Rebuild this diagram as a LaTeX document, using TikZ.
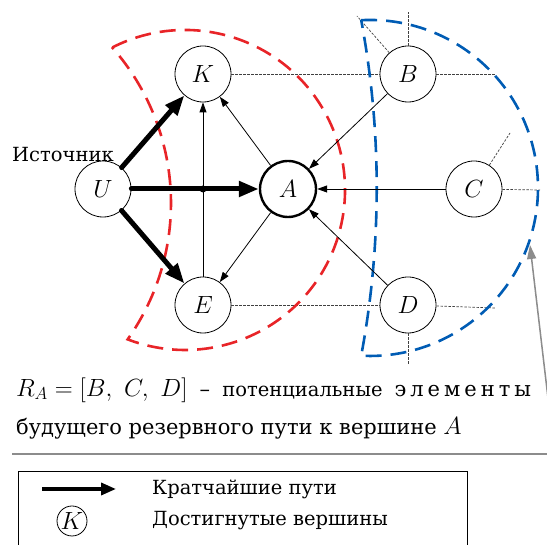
\documentclass[tikz,border=0pt]{standalone}
\usepackage{fontspec}
\setmainfont{DejaVu Serif}
\usetikzlibrary{arrows.meta, positioning}

\definecolor{zonered}{RGB}{232,36,40}
\definecolor{zoneblue}{RGB}{0,92,180}

\begin{document}
\begin{tikzpicture}[
  x=1pt, y=1pt,
  node distance=100pt, on grid,
  vertex/.style={circle, draw=black, fill=white, line width=0.8pt, minimum size=56pt, inner sep=0pt, font=\fontsize{24}{28}\selectfont},
  goal/.style={vertex, line width=2.4pt},
  shortest/.style={draw, line width=5pt, line cap=round, -{Triangle[length=20pt, width=15pt]}},
  link/.style={draw, line width=0.8pt, -{Triangle[length=10pt, width=7pt]}},
  stub/.style={draw=black!75, line width=0.7pt, dash pattern=on 2.5pt off 1.5pt},
  zone/.style={line width=2.6pt, dash pattern=on 16pt off 9pt},
  txt/.style={font=\fontsize{21}{26}\selectfont, inner sep=0pt},
  small txt/.style={font=\fontsize{19.5}{24}\selectfont, inner sep=0pt}
]
  \useasboundingbox (0,0) rectangle (547,545);
  \clip (0,0) rectangle (547,545);

  % vertices
  \node [vertex] (U) at (103,356) {$U$};
  \node [goal, right=185pt of U] (A) {$A$};
  \node [vertex, above right=115pt and 100pt of U] (K) {$K$};
  \node [vertex, below right=116pt and 100pt of U] (E) {$E$};
  \node [vertex, right=205pt of K] (B) {$B$};
  \node [vertex, right=205pt of E] (D) {$D$};
  \node [vertex, right=186pt of A] (C) {$C$};
  \node [small txt] (src) at (63,390) {Источник};

  % free ends of the dotted stubs
  \coordinate (bUp) at (408,533);
  \coordinate (bNW) at (357,529);
  \coordinate (bE) at (495,471);
  \coordinate (cNE) at (510,412);
  \coordinate (cE) at (540,355);
  \coordinate (dE) at (495,237);
  \coordinate (dS) at (408,180);

  \draw [stub] (K) -- (B);
  \draw [stub] (E) -- (D);
  \draw [stub] (B) -- (bUp);
  \draw [stub] (B) -- (bNW);
  \draw [stub] (B) -- (bE);
  \draw [stub] (C) -- (cNE);
  \draw [stub] (C) -- (cE);
  \draw [stub] (D) -- (dE);
  \draw [stub] (D) -- (dS);

  % zones
  \draw [zone, draw=zonered] (112.36,497.56) arc[start angle=117, end angle=-111, radius=160]
    arc[start angle=-35.3, end angle=41.3, radius=235.7] -- cycle;
  \draw [zone, draw=zoneblue] (361.2,524.8) arc[start angle=93, end angle=-93, radius=168]
    arc[start angle=-10.57, end angle=10.57, radius=915] -- cycle;

  % edges
  \draw [link] (E) -- (K);
  \draw [link] (A) -- (K);
  \draw [link] (A) -- (E);
  \draw [link] (B) -- (A);
  \draw [link] (C) -- (A);
  \draw [link] (D) -- (A);

  \draw [shortest] (U) -- (K);
  \draw [shortest] (U) -- (A);
  \draw [shortest] (U) -- (E);
  \fill (K |- U) circle (3.5);

  % pointer to the blue zone
  \coordinate (ptr) at (550,130);
  \coordinate (ptrtip) at (530,300);
  \draw [draw=black!45, line width=1.5pt, -{Triangle[length=14pt, width=9pt]}] (ptr) -- (ptrtip);

  % caption
  \node [txt, anchor=west] (ra) at (16,155) {\makebox[515pt]{\fontsize{24}{28}\selectfont$R_A = [B,\ C,\ D]$\hfill\fontsize{21}{26}\selectfont–\hfill{\fontsize{19.5}{24}\selectfont потенциальные}\hfill э\kern4pt л\kern4pt е\kern4pt м\kern4pt е\kern4pt н\kern4pt т\kern4pt ы}};
  \node [txt, anchor=west] (rb) at (16,117) {будущего резервного пути к вершине {\fontsize{24}{28}\selectfont$A$}};
  \coordinate (sepL) at (12,91);
  \coordinate (sepR) at (547,91);
  \draw [draw=black!45, line width=1.5pt] (sepL) -- (sepR);

  % legend
  \draw [line width=0.8pt] (18,-5) rectangle (467,74);
  \coordinate (la) at (42,56);
  \coordinate (lb) at (116,56);
  \draw [draw, line width=3.5pt, -{Triangle[length=15pt, width=12pt]}] (la) -- (lb);
  \node [vertex, minimum size=30pt] (lk) at (72,24) {$K$};
  \node [small txt, anchor=west] (l1) at (152,56) {Кратчайшие пути};
  \node [small txt, anchor=west] (l2) at (152,24) {Достигнутые вершины};
\end{tikzpicture}
\end{document}
